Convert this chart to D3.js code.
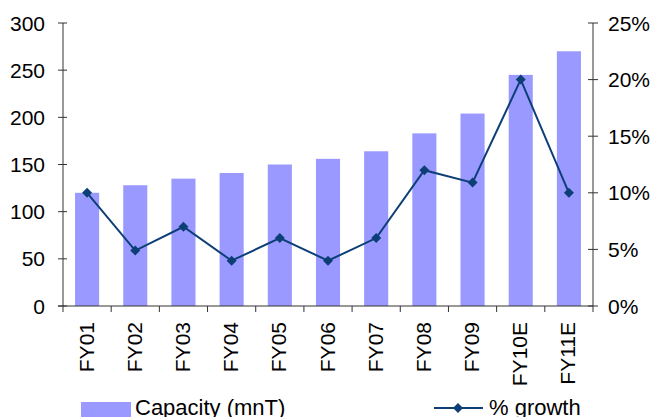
<!DOCTYPE html>
<html>
<head>
<meta charset="utf-8">
<script src="https://cdn.jsdelivr.net/npm/d3@7"></script>
<style>
  body { margin: 0; background: #fff; }
  svg { display: block; font-family: "Liberation Sans", Arial, sans-serif; }
</style>
</head>
<body>
<svg width="655" height="417"></svg>
<script>
const years = ["FY01", "FY02", "FY03", "FY04", "FY05", "FY06", "FY07", "FY08", "FY09", "FY10E", "FY11E"];
const capacity = [120, 128, 135, 141, 150, 156, 164, 183, 204, 245, 270];
const growth = [10, 4.9, 7, 4, 6, 4, 6, 12, 10.9, 20, 10];
const left_ticks = [0, 50, 100, 150, 200, 250, 300];
const right_ticks = [0, 5, 10, 15, 20, 25];

const bar_color = "#9999ff";
const line_color = "#0d3f76";
const axis_color = "#333";

const margin = { left: 63, right: 62, top: 23, bottom: 111 };
const width = 655, height = 417;
const x0 = margin.left, x1 = width - margin.right;
const y0 = height - margin.bottom, y1 = margin.top;

const svg = d3.select("svg");

const x = d3.scaleBand(years, [x0, x1]).paddingInner(0.5).paddingOuter(0.25);
const band = d3.scaleBand(years, [x0, x1]);
const y = d3.scaleLinear([0, 300], [y0, y1]);
const y2 = d3.scaleLinear([0, 25], [y0, y1]);

// bars
svg.append("g")
  .selectAll("rect")
  .data(capacity)
  .join("rect")
    .attr("x", (d, i) => x(years[i]))
    .attr("y", d => y(d))
    .attr("width", x.bandwidth())
    .attr("height", d => y0 - y(d))
    .attr("fill", bar_color);

// left axis
const gl = svg.append("g").attr("stroke", axis_color);
gl.append("line").attr("x1", x0).attr("x2", x0).attr("y1", y1).attr("y2", y0);
gl.selectAll(".t").data(left_ticks).join("line")
  .attr("x1", x0 - 5).attr("x2", x0 + 4)
  .attr("y1", d => y(d)).attr("y2", d => y(d));
svg.append("g").selectAll("text").data(left_ticks).join("text")
  .attr("x", x0 - 18).attr("y", d => y(d))
  .attr("dy", "0.36em").attr("text-anchor", "end")
  .attr("font-size", 21).text(d => d);

// right axis
const gr = svg.append("g").attr("stroke", axis_color);
gr.append("line").attr("x1", x1).attr("x2", x1).attr("y1", y1).attr("y2", y0);
gr.selectAll(".t").data(right_ticks).join("line")
  .attr("x1", x1 - 5).attr("x2", x1 + 5)
  .attr("y1", d => y2(d)).attr("y2", d => y2(d));
svg.append("g").selectAll("text").data(right_ticks).join("text")
  .attr("x", x1 + 15).attr("y", d => y2(d))
  .attr("dy", "0.36em")
  .attr("font-size", 21).text(d => d + "%");

// bottom axis
const gb = svg.append("g").attr("stroke", axis_color);
gb.append("line").attr("x1", x0 - 5).attr("x2", x1).attr("y1", y0).attr("y2", y0);
gb.selectAll(".t").data(years.map((d, i) => i).concat([years.length])).join("line")
  .attr("x1", i => x0 + i * band.step()).attr("x2", i => x0 + i * band.step())
  .attr("y1", y0).attr("y2", y0 + 6);
svg.append("g").selectAll("text").data(years).join("text")
  .attr("transform", d => `translate(${band(d) + band.bandwidth() / 2 - 1},${y0 + 16}) rotate(-90)`)
  .attr("dy", "0.36em").attr("text-anchor", "end")
  .attr("font-size", 21).text(d => d);

// growth line
const line = d3.line()
  .x((d, i) => band(years[i]) + band.bandwidth() / 2)
  .y(d => y2(d));
svg.append("path")
  .datum(growth)
  .attr("d", line)
  .attr("fill", "none")
  .attr("stroke", line_color)
  .attr("stroke-width", 2);
svg.append("g")
  .selectAll("path")
  .data(growth)
  .join("path")
    .attr("d", d3.symbol(d3.symbolSquare, 50))
    .attr("transform", (d, i) => `translate(${band(years[i]) + band.bandwidth() / 2},${y2(d)}) rotate(45)`)
    .attr("fill", line_color);

// legend
const lg = svg.append("g");
lg.append("rect").attr("x", 81).attr("y", 402).attr("width", 50).attr("height", 15).attr("fill", bar_color);
lg.append("text").attr("x", 135).attr("y", 415).attr("font-size", 22).text("Capacity (mnT)");
lg.append("line").attr("x1", 434).attr("x2", 483).attr("y1", 408).attr("y2", 408)
  .attr("stroke", line_color).attr("stroke-width", 2);
lg.append("path").attr("d", d3.symbol(d3.symbolSquare, 50))
  .attr("transform", "translate(458,408) rotate(45)").attr("fill", line_color);
lg.append("text").attr("x", 489).attr("y", 415).attr("font-size", 22).text("% growth");
</script>
</body>
</html>
